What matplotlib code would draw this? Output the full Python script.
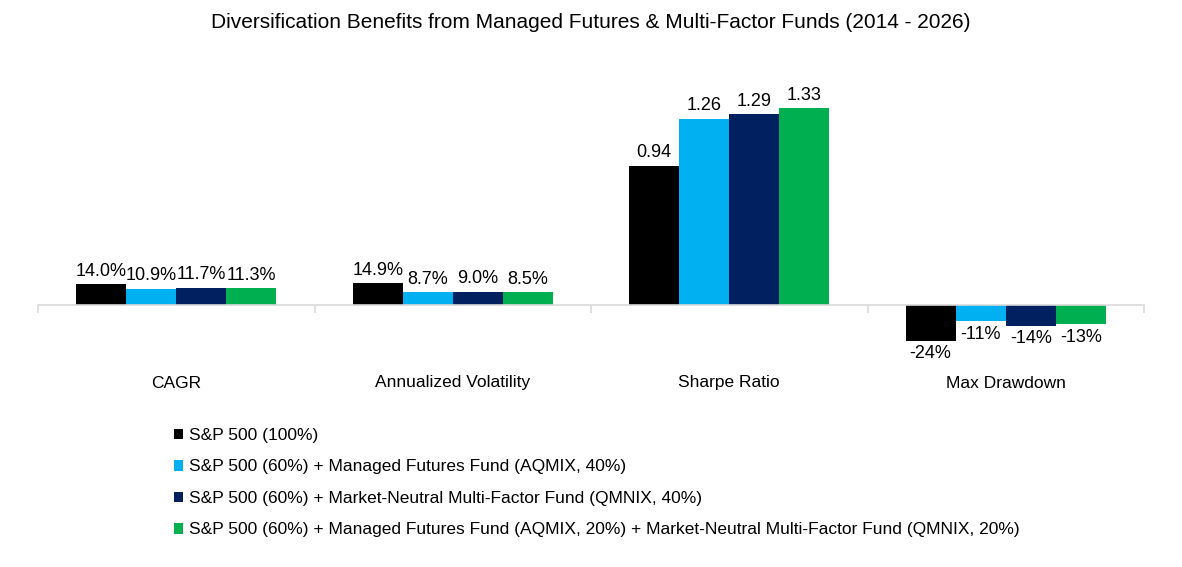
import numpy as np
import matplotlib.pyplot as plt
from matplotlib.transforms import blended_transform_factory

plt.rcParams['font.family'] = ['Liberation Sans', 'DejaVu Sans']

categories = ['CAGR', 'Annualized Volatility', 'Sharpe Ratio', 'Max Drawdown']
series = ['S&P 500 (100%)',
          'S&P 500 (60%) + Managed Futures Fund (AQMIX, 40%)',
          'S&P 500 (60%) + Market-Neutral Multi-Factor Fund (QMNIX, 40%)',
          'S&P 500 (60%) + Managed Futures Fund (AQMIX, 20%) + Market-Neutral Multi-Factor Fund (QMNIX, 20%)']
values = [
    [0.140, 0.149, 0.94, -0.24],
    [0.109, 0.087, 1.26, -0.11],
    [0.117, 0.090, 1.29, -0.14],
    [0.113, 0.085, 1.33, -0.13],
]
labels = [
    ['14.0%', '14.9%', '0.94', '-24%'],
    ['10.9%', '8.7%', '1.26', '-11%'],
    ['11.7%', '9.0%', '1.29', '-14%'],
    ['11.3%', '8.5%', '1.33', '-13%'],
]
colors = ['#000000', '#00b0f0', '#002060', '#00b050']

W, H = 1182, 567
fig = plt.figure(figsize=(W / 100, H / 100), dpi=100)
# axes: x 38..1144 px, y 60..355 px
ax = fig.add_axes([38 / W, 1 - 355 / H, (1144 - 38) / W, (355 - 60) / H])

x = np.arange(len(categories))
bw = 0.181
for i, (vals, labs, c) in enumerate(zip(values, labels, colors)):
    xs = x + (i - 1.5) * bw
    ax.bar(xs, vals, width=bw, color=c, label=series[i])
    for xx, v, lab in zip(xs, vals, labs):
        if v >= 0:
            ax.text(xx, v + 0.03, lab, ha='center', va='bottom', fontsize=13)
        else:
            ax.text(xx, v - 0.03, lab, ha='center', va='top', fontsize=13)

ax.set_xlim(-0.5, 3.5)
ax.set_ylim(-50 / 148, 245 / 148)
for s in ['top', 'right', 'left']:
    ax.spines[s].set_visible(False)
ax.spines['bottom'].set_position(('data', 0))
ax.spines['bottom'].set_color('#d9d9d9')
ax.spines['bottom'].set_linewidth(1.2)
ax.set_yticks([])
ax.set_xticks(np.arange(-0.5, 4, 1))
ax.tick_params(axis='x', length=6, color='#d9d9d9', width=1.2, labelbottom=False)

trans = blended_transform_factory(ax.transData, fig.transFigure)
for xi, cat in zip(x, categories):
    ax.text(xi, 1 - 383 / H, cat, transform=trans, ha='center', va='center', fontsize=12.5)

fig.text(0.5, 1 - 22 / H, 'Diversification Benefits from Managed Futures & Multi-Factor Funds (2014 - 2026)',
         ha='center', va='center', fontsize=15)

fig.legend(loc='upper left', bbox_to_anchor=(167 / W, 1 - 421 / H), frameon=False, fontsize=12.5,
           handlelength=0.55, handleheight=0.55, handletextpad=0.3, labelspacing=0.95, borderaxespad=0)

fig.savefig('out.png', dpi=100)
